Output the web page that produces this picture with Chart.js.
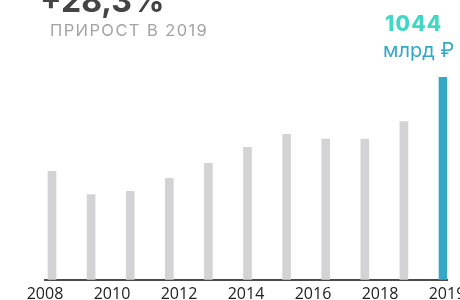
<!DOCTYPE html>
<html>
<head>
<meta charset="utf-8">
<script src="https://cdn.jsdelivr.net/npm/chart.js@4"></script>
<style>
  html, body { margin: 0; padding: 0; background: #fff; }
  body { width: 460px; height: 300px; overflow: hidden; position: relative; }
  #chartWrap { position: absolute; left: 0; top: 0; width: 460px; height: 309px; }
  .txt { position: absolute; white-space: nowrap; line-height: 1; font-family: Inter, "Noto Sans", sans-serif; }
  #growth { left: 40px; top: -15px; font-size: 32px; font-weight: 700; color: #444; }
  #growthSub { left: 50px; top: 22px; font-size: 16.5px; color: #a3a3a3; letter-spacing: 1.4px; }
  #total { left: 385px; top: 13px; font-size: 21px; font-weight: 800; color: #3fd8c5; letter-spacing: 1.2px; }
  #unit { left: 383px; top: 40px; font-size: 20px; color: #34a6c6; }
</style>
</head>
<body>
<div id="chartWrap"><canvas id="growthChart" width="460" height="309"></canvas></div>
<div class="txt" id="growth">+28,3%</div>
<div class="txt" id="growthSub">ПРИРОСТ В 2019</div>
<div class="txt" id="total">1044</div>
<div class="txt" id="unit">млрд ₽</div>

<script>
// ====================================
// DATA
// ====================================

// one bar per year, billions of rubles
const barYears = [2009, 2010, 2011, 2012, 2013, 2014, 2015, 2016, 2017, 2018, 2019];
const barValues = [558, 439, 456, 522, 600, 682, 749, 724, 724, 814, 1044];

// years written under the axis
const tickLabels = ['2008', '2010', '2012', '2014', '2016', '2018', '2019'];

const greyBar = '#d3d3d5';
const lastBar = '#33a9c7';

// ====================================
// CHART
// ====================================

document.addEventListener('DOMContentLoaded', function() {
    const ctx = document.getElementById('growthChart');

    const colors = barYears.map((y, i) => i === barYears.length - 1 ? lastBar : greyBar);

    new Chart(ctx, {
        type: 'bar',
        data: {
            datasets: [{
                data: barYears.map((year, i) => ({ x: year, y: barValues[i] })),
                backgroundColor: colors,
                borderWidth: 0,
                barThickness: 8,
                xAxisID: 'x',
                yAxisID: 'y'
            }]
        },
        options: {
            responsive: false,
            devicePixelRatio: 1,
            animation: false,
            layout: {
                padding: { left: 45, right: 13, top: 77, bottom: 0 }
            },
            plugins: {
                legend: { display: false },
                tooltip: { enabled: false }
            },
            scales: {
                x: {
                    type: 'linear',
                    position: 'bottom',
                    offset: false,
                    min: 2008.821,
                    max: 2019.102,
                    grid: { display: false, drawTicks: false },
                    ticks: { display: false },
                    border: { display: true, color: '#4a4a4a', width: 2 }
                },
                years: {
                    type: 'category',
                    position: 'bottom',
                    labels: tickLabels,
                    offset: false,
                    grid: { display: false, drawTicks: false },
                    border: { display: false },
                    ticks: {
                        autoSkip: false,
                        maxRotation: 0,
                        padding: 5,
                        color: '#222',
                        font: { family: '"Open Sans", sans-serif', size: 16 }
                    },
                    afterFit: function(scale) {
                        // let the end labels hang past the plot edges
                        scale.paddingLeft = 0;
                        scale.paddingRight = 0;
                    }
                },
                y: {
                    display: false,
                    min: 0,
                    max: 1044
                }
            }
        }
    });
});
</script>
</body>
</html>
